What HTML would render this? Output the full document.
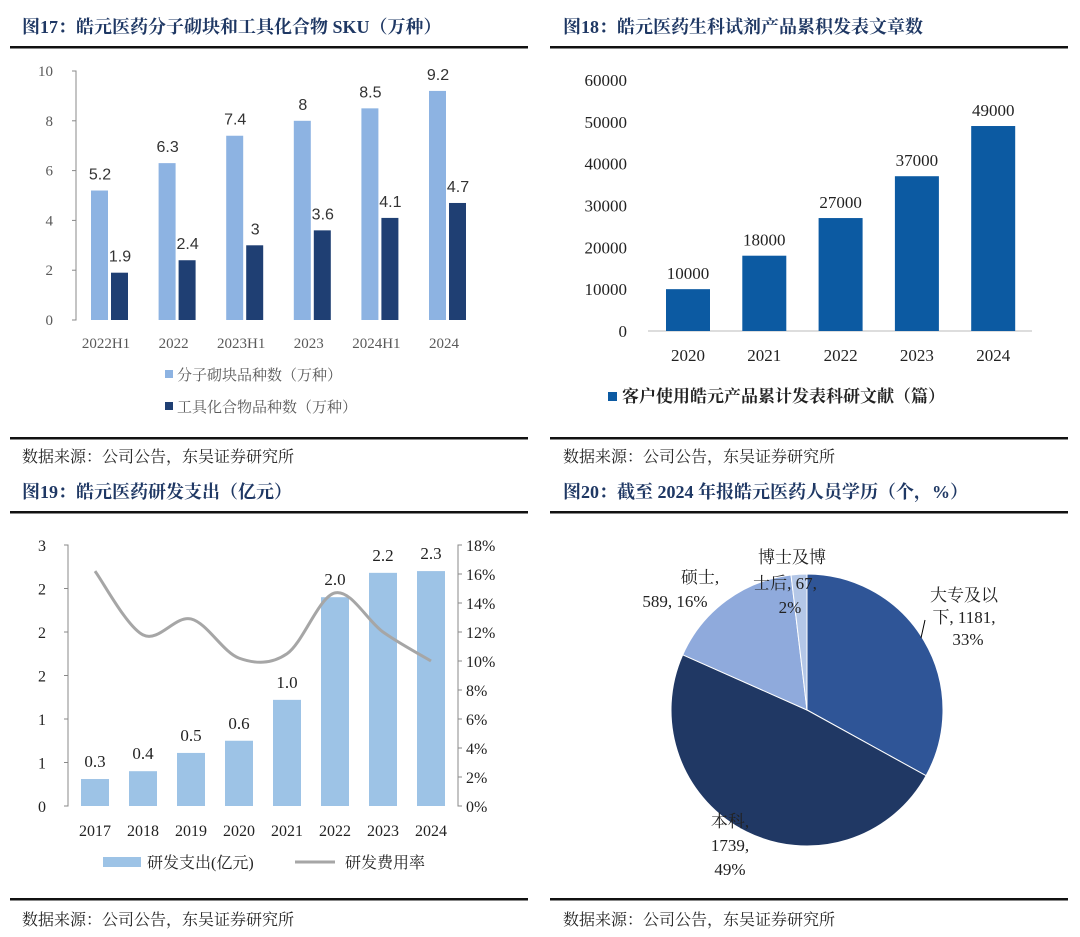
<!DOCTYPE html>
<html><head><meta charset="utf-8"><style>
body{margin:0;width:1080px;height:937px;background:#fff;overflow:hidden;font-family:"Liberation Serif","Noto Serif CJK SC",serif}
svg{position:absolute;left:0;top:0}
.t{font-family:"Liberation Serif","Noto Serif CJK SC",serif;font-weight:bold;fill:#1f3864;font-size:18px}
.s{font-size:16px;fill:#222}
.ax{font-size:15px;fill:#595959}
.lb{font-size:16px;fill:#333;font-family:"Liberation Sans","Noto Sans CJK SC",sans-serif}
</style></head><body>
<svg width="1080" height="937">
<g id="frame"></g>
<g id="c1"></g>
<g id="c2"></g>
<g id="c3"></g>
<g id="c4"></g>
</svg>
<script>
// chart 1
const c1Cats=["2022H1","2022","2023H1","2023","2024H1","2024"];
const c1Blocks=[5.2,6.3,7.4,8,8.5,9.2];
const c1Tools=[1.9,2.4,3,3.6,4.1,4.7];
const c1Ticks=[0,2,4,6,8,10];
// chart 2
const c2Cats=["2020","2021","2022","2023","2024"];
const c2Vals=[10000,18000,27000,37000,49000];
const c2Ticks=[0,10000,20000,30000,40000,50000,60000];
// chart 3
const c3Cats=["2017","2018","2019","2020","2021","2022","2023","2024"];
const c3Spend=[0.31,0.4,0.61,0.75,1.22,2.4,2.68,2.7];
const c3SpendLabels=["0.3","0.4","0.5","0.6","1.0","2.0","2.2","2.3"];
const c3Rate=[16.2,11.8,12.9,10.2,10.5,14.7,12,10];
const c3LeftTicks=["0","1","1","2","2","2","3"];
const c3RightTicks=[0,2,4,6,8,10,12,14,16,18];
// chart 4
const c4Names=["大专及以下","本科","硕士","博士及博士后"];
const c4Vals=[1181,1739,589,67];

const NS="http://www.w3.org/2000/svg";
function el(p,tag,a,txt){const e=document.createElementNS(NS,tag);for(const k in a)e.setAttribute(k,a[k]);if(txt!==undefined)e.textContent=txt;p.appendChild(e);return e;}
const F=document.getElementById('frame');
function title(x,y,txt,name){const e=el(F,'text',{x:x,y:y,class:'t'},txt);}
function rule(x1,x2,y,name){const e=el(F,'rect',{x:x1,y:y-1,width:x2-x1,height:2.5,fill:'#111'});}
function src(x,y,name){const e=el(F,'text',{x:x,y:y,class:'s'},'数据来源：公司公告，东吴证券研究所');}
title(22,33,'图17：皓元医药分子砌块和工具化合物 SKU（万种）','title-fig17');
title(563,33,'图18：皓元医药生科试剂产品累积发表文章数','title-fig18');
title(22,498,'图19：皓元医药研发支出（亿元）','title-fig19');
title(563,498,'图20：截至 2024 年报皓元医药人员学历（个，%）','title-fig20');
[[10,528,47],[550,1068,47],[10,528,438],[550,1068,438],[10,528,512],[550,1068,512],[10,528,899],[550,1068,899]].forEach((r,i)=>rule(r[0],r[1],r[2],'divider-rule'));
src(22,462,'source-note');src(563,462,'source-note');src(22,925,'source-note');src(563,925,'source-note');

// chart1
(function(){const g=document.getElementById('c1');
const y0=320,y1=71,max=10,y=v=>y0-(y0-y1)*v/max;const x=i=>106+i*67.6;
const a=el(g,'path',{d:`M72,${y1} L76,${y1} L76,${y0} L72,${y0}`,stroke:'#888',fill:'none'});
c1Ticks.forEach(t=>{const e=el(g,'text',{x:53,y:y(t)+5,'text-anchor':'end',class:'ax'},t);
el(g,'line',{x1:72,x2:76,y1:y(t),y2:y(t),stroke:'#888'});});
c1Cats.forEach((c,i)=>{
const b=el(g,'rect',{x:x(i)-15,y:y(c1Blocks[i]),width:17,height:y0-y(c1Blocks[i]),fill:'#8db3e2'});
const d=el(g,'rect',{x:x(i)+5,y:y(c1Tools[i]),width:17,height:y0-y(c1Tools[i]),fill:'#1f3f73'});
const l1=el(g,'text',{x:x(i)-6,y:y(c1Blocks[i])-11,'text-anchor':'middle',class:'lb'},c1Blocks[i]);
const l2=el(g,'text',{x:x(i)+14,y:y(c1Tools[i])-11,'text-anchor':'middle',class:'lb'},c1Tools[i]);
const xl=el(g,'text',{x:x(i),y:348,'text-anchor':'middle',class:'ax'},c);});
const l=el(g,'rect',{x:165,y:370,width:8,height:8,fill:'#8db3e2'});
const lt=el(g,'text',{x:177,y:380,class:'ax'},'分子砌块品种数（万种）');
const l2=el(g,'rect',{x:165,y:402,width:8,height:8,fill:'#1f3f73'});
const lt2=el(g,'text',{x:177,y:412,class:'ax'},'工具化合物品种数（万种）');
})();

// chart2
(function(){const g=document.getElementById('c2');
const y0=331,y1=80,max=60000,y=v=>y0-(y0-y1)*v/max;const x=i=>688+i*76.3;
c2Ticks.forEach(t=>{const e=el(g,'text',{x:627,y:y(t)+6,'text-anchor':'end',class:'s',style:'font-size:17px'},t);});
const ax=el(g,'line',{x1:648,x2:1032,y1:y0,y2:y0,stroke:'#bbb'});
c2Cats.forEach((c,i)=>{const b=el(g,'rect',{x:x(i)-22,y:y(c2Vals[i]),width:44,height:y0-y(c2Vals[i]),fill:'#0c5aa2'});
const l=el(g,'text',{x:x(i),y:y(c2Vals[i])-10,'text-anchor':'middle',class:'s',style:'font-size:17px'},c2Vals[i]);
const xl=el(g,'text',{x:x(i),y:361,'text-anchor':'middle',class:'s',style:'font-size:17px'},c);});
const sw=el(g,'rect',{x:608,y:392,width:9,height:9,fill:'#0c5aa2'});
const lt=el(g,'text',{x:622,y:402,class:'s',style:'font-weight:bold;font-size:17px'},'客户使用皓元产品累计发表科研文献（篇）');
})();

// chart3
(function(){const g=document.getElementById('c3');
const y0=806,y1=545,y=v=>y0-(y0-y1)*v/3,yr=v=>y0-(y0-y1)*v/18;const x=i=>95+i*48;
const a=el(g,'path',{d:`M64,${y1} L68,${y1} L68,${y0} L64,${y0}`,stroke:'#888',fill:'none'});
c3LeftTicks.forEach((t,i)=>{const yy=y0-(y0-y1)*i/6;const e=el(g,'text',{x:46,y:yy+6,'text-anchor':'end',class:'s'},t);el(g,'line',{x1:64,x2:68,y1:yy,y2:yy,stroke:'#888'});});
const b=el(g,'path',{d:`M462,${y1} L458,${y1} L458,${y0} L462,${y0}`,stroke:'#888',fill:'none'});
c3RightTicks.forEach(t=>{const e=el(g,'text',{x:466,y:yr(t)+6,class:'s'},t+'%');el(g,'line',{x1:458,x2:462,y1:yr(t),y2:yr(t),stroke:'#888'});});
c3Cats.forEach((c,i)=>{const r=el(g,'rect',{x:x(i)-14,y:y(c3Spend[i]),width:28,height:y0-y(c3Spend[i]),fill:'#9dc3e6'});
const l=el(g,'text',{x:x(i),y:y(c3Spend[i])-12,'text-anchor':'middle',class:'s',style:'font-size:17px'},c3SpendLabels[i]);
const xl=el(g,'text',{x:x(i),y:836,'text-anchor':'middle',class:'s'},c);});
const P=c3Rate.map((v,i)=>[x(i),yr(v)]);let d=`M${P[0][0]},${P[0][1]}`;
for(let i=0;i<P.length-1;i++){const p0=P[i-1]||P[i],p1=P[i],p2=P[i+1],p3=P[i+2]||p2;const t=0.5/3;
d+=` C${p1[0]+(p2[0]-p0[0])*t},${p1[1]+(p2[1]-p0[1])*t} ${p2[0]-(p3[0]-p1[0])*t},${p2[1]-(p3[1]-p1[1])*t} ${p2[0]},${p2[1]}`;}
const ln=el(g,'path',{d:d,stroke:'#a6a6a6','stroke-width':3,fill:'none'});
const sw=el(g,'rect',{x:103,y:857,width:38,height:10,fill:'#9dc3e6'});
const t1=el(g,'text',{x:147,y:868,class:'s'},'研发支出(亿元)');
const sl=el(g,'line',{x1:295,x2:335,y1:862,y2:862,stroke:'#a6a6a6','stroke-width':3});
const t2=el(g,'text',{x:345,y:868,class:'s'},'研发费用率');
})();

// chart4
(function(){const g=document.getElementById('c4');
const cx=807,cy=710,R=136,cols=['#2f5597','#203864','#8faadc','#b4c7e7'];
const tot=c4Vals.reduce((a,b)=>a+b,0);let a0=0;
c4Vals.forEach((v,i)=>{const a1=a0+v/tot*2*Math.PI;const p=a=>[cx+R*Math.sin(a),cy-R*Math.cos(a)];const s=p(a0),e=p(a1);
const sl=el(g,'path',{d:`M${cx},${cy} L${s[0]},${s[1]} A${R},${R} 0 ${a1-a0>Math.PI?1:0} 1 ${e[0]},${e[1]} Z`,fill:cols[i],stroke:'#fff','stroke-width':1});a0=a1;});
const labs=[[[964,601,'大专及以'],[964,623,'下, '+c4Vals[0]+','],[968,645,Math.round(c4Vals[0]/tot*100)+'%']],
[[730,827,'本科,'],[730,851,c4Vals[1]+','],[730,875,Math.round(c4Vals[1]/tot*100)+'%']],
[[700,583,'硕士,'],[675,607,c4Vals[2]+', '+Math.round(c4Vals[2]/tot*100)+'%']],
[[792,563,'博士及博'],[785,589,'士后, '+c4Vals[3]+','],[790,613,Math.round(c4Vals[3]/tot*100)+'%']]];
labs.forEach((L,i)=>L.forEach(q=>{const e=el(g,'text',{x:q[0],y:q[1],'text-anchor':'middle',class:'s',style:'font-size:17px'},q[2]);}));
const ld=el(g,'line',{x1:921,y1:638,x2:925,y2:620,stroke:'#000'});
})();
</script>
</body></html>
